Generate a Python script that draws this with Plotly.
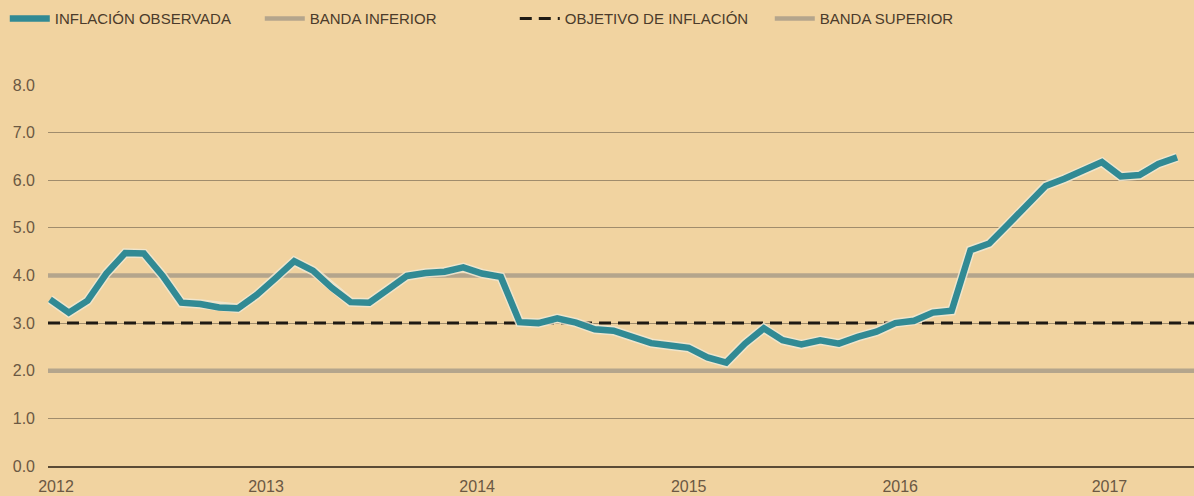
import plotly.graph_objects as go

# inflacion anual observada, dic-2012 a dic-2017 (mensual)
inflacion = [
    3.50, 3.22, 3.47, 4.04, 4.47, 4.46, 3.99, 3.43, 3.40, 3.33, 3.31, 3.59,
    3.94, 4.30, 4.10, 3.74, 3.44, 3.43, 3.71, 3.99, 4.05, 4.08, 4.17, 4.04,
    3.97, 3.02, 3.00, 3.10, 3.01, 2.87, 2.84, 2.71, 2.58, 2.53, 2.48, 2.28,
    2.17, 2.57, 2.89, 2.64, 2.55, 2.64, 2.57, 2.71, 2.82, 3.00, 3.05, 3.22,
    3.26, 4.53, 4.67, 5.07, 5.50, 5.88, 6.03, 6.20, 6.38, 6.08, 6.11, 6.34,
    6.48,
]
banda_inferior = 2.0
objetivo = 3.0
banda_superior = 4.0

anios = ["2012", "2013", "2014", "2015", "2016", "2017"]
anio_pos = [0.32, 11.5, 22.74, 34.0, 45.26, 56.4]
y_ticks = [0, 1, 2, 3, 4, 5, 6, 7, 8]

x = list(range(len(inflacion)))
x_range = [-0.106, len(inflacion) - 1 + 0.9]

fondo = "#f1d3a0"
banda_color = "#b4a58c"
texto = "#4b3b2b"

fig = go.Figure()

fig.add_trace(go.Scatter(
    x=x_range, y=[banda_superior] * 2, mode="lines", name="BANDA SUPERIOR",
    line=dict(color=banda_color, width=4.5), legendrank=4, hoverinfo="skip",
))
fig.add_trace(go.Scatter(
    x=x_range, y=[banda_inferior] * 2, mode="lines", name="BANDA INFERIOR",
    line=dict(color=banda_color, width=4.5), legendrank=2, hoverinfo="skip",
))
fig.add_trace(go.Scatter(
    x=x_range, y=[objetivo] * 2, mode="lines", name="OBJETIVO DE INFLACIÓN",
    line=dict(color="#1f1a14", width=3, dash="12px,7px"), legendrank=3,
    hoverinfo="skip",
))
# halo claro bajo la linea
fig.add_trace(go.Scatter(
    x=x, y=inflacion, mode="lines", showlegend=False, hoverinfo="skip",
    line=dict(color="rgba(238,232,212,0.85)", width=9.5),
))
fig.add_trace(go.Scatter(
    x=x, y=inflacion, mode="lines", name="INFLACIÓN OBSERVADA",
    line=dict(color="#318a94", width=6.5), legendrank=1,
))

fig.update_layout(
    width=1194,
    height=496,
    paper_bgcolor=fondo,
    plot_bgcolor=fondo,
    margin=dict(l=48, r=0, t=84, b=30, autoexpand=False),
    font=dict(family="Liberation Sans, Arial, sans-serif", color=texto),
    legend=dict(
        orientation="h",
        xref="container", x=0.004, xanchor="left",
        yref="container", y=0.962, yanchor="middle",
        font=dict(size=15, color=texto),
        bgcolor="rgba(0,0,0,0)",
        itemwidth=40,
        entrywidth=200,
        entrywidthmode="pixels",
        traceorder="normal",
    ),
    showlegend=True,
)

fig.update_xaxes(
    range=x_range,
    tickvals=anio_pos,
    ticktext=anios,
    showgrid=False,
    zeroline=False,
    showline=True,
    linecolor="#5a4a35",
    linewidth=1.5,
    ticks="",
    ticklabelstandoff=5,
    automargin=False,
    tickfont=dict(size=16, color="#6b5843"),
)
fig.update_yaxes(
    range=[0, 8.02],
    tickvals=y_ticks,
    ticktext=[f"{v:.1f}" for v in y_ticks],
    showgrid=True,
    gridcolor="#a08c6c",
    gridwidth=1,
    zeroline=False,
    ticks="",
    ticklabelstandoff=12,
    automargin=False,
    tickfont=dict(size=16, color="#6b5843"),
)

# quitar el margen por defecto del body para que el grafico llene la ventana
fig.write_html(
    "out.html",
    config={"displayModeBar": False},
    post_script="document.body.style.margin='0';"
                "document.body.style.overflow='hidden';",
)
